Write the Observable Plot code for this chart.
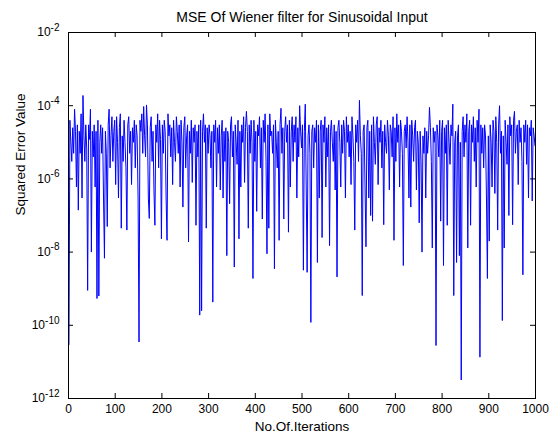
<!DOCTYPE html>
<html>
<head>
<meta charset="utf-8">
<script src="https://cdn.jsdelivr.net/npm/d3@7"></script>
<script src="https://cdn.jsdelivr.net/npm/@observablehq/plot@0.6"></script>
<style>
  html, body { margin: 0; padding: 0; background: #fff; }
  #chart svg { display: block; }
</style>
</head>
<body>
<div id="chart"></div>
<script>
// ---- Data ----
const titleText = "MSE Of Wiener filter for Sinusoidal Input";
const xLabelText = "No.Of.Iterations";
const yLabelText = "Squared Error Value";

const xTicks = [0, 100, 200, 300, 400, 500, 600, 700, 800, 900, 1000];
const yTicks = [1e-12, 1e-10, 1e-8, 1e-6, 1e-4, 1e-2];
const yTickBase = "10";
const yTickExponents = ["-12", "-10", "-8", "-6", "-4", "-2"];

// iteration sampling: every 2nd iteration starting at 1
const iterStart = 1;
const iterStep = 2;

// squared error values, one per sampled iteration (10 per row)
const mse = [
  3e-11, 4e-5, 1e-5, 3e-6, 2.5e-5, 5e-6, 8e-5, 2e-5, 6e-7, 3e-5,
  1.4e-7, 2e-5, 5e-6, 6e-5, 3e-7, 1.9e-4, 1.5e-5, 3e-6, 3e-5, 7e-6,
  9e-10, 3e-5, 1.2e-5, 8e-5, 1e-8, 2e-5, 4e-6, 3e-5, 6e-7, 2e-5,
  5.4e-10, 4e-5, 6.3e-10, 1e-5, 3e-5, 5e-6, 2.5e-5, 3e-7, 6.8e-9, 2e-5,
  5e-6, 5e-8, 3e-5, 8e-5, 2e-6, 1.5e-5, 5e-5, 3e-6, 2e-5, 4e-5,
  7e-7, 5e-5, 1e-5, 3e-7, 2.5e-5, 6e-5, 4.5e-8, 1.5e-5, 3e-6, 4e-5,
  1e-5, 2e-6, 4e-8, 3e-5, 5e-5, 5e-6, 2e-5, 7e-7, 2.5e-5, 1e-5,
  4e-5, 2e-6, 3e-5, 1.5e-5, 3e-7, 3.5e-11, 4e-5, 2e-5, 6e-5, 5e-6,
  9.5e-5, 1.5e-5, 4e-6, 1.05e-4, 3e-5, 3e-7, 8.3e-8, 2.5e-5, 5e-5, 3e-6,
  2e-5, 5e-7, 5.4e-8, 3e-5, 1e-5, 6e-5, 2e-6, 4e-5, 1.2e-5, 2.3e-8,
  3e-5, 5e-6, 4e-5, 2e-5, 3e-7, 2.1e-8, 6e-5, 1.5e-5, 3e-5, 4e-6,
  2.5e-5, 7e-7, 4e-5, 1e-5, 3e-6, 5e-5, 2e-5, 5e-6, 3e-5, 6e-7,
  4e-5, 1e-5, 1.7e-7, 2.5e-5, 5e-5, 2e-6, 1.5e-5, 3e-5, 1.9e-8, 2e-5,
  5e-6, 4e-5, 8e-7, 2.5e-5, 1e-5, 3e-5, 5.4e-8, 2e-5, 4e-6, 3e-5,
  1.9e-10, 4e-5, 2.5e-10, 2e-5, 6e-5, 1e-5, 3e-5, 4.5e-8, 2.5e-5, 5e-6,
  3e-5, 1.5e-5, 2e-6, 2e-5, 4.3e-10, 3e-5, 1e-5, 4e-5, 6e-7, 2.5e-5,
  5e-6, 3e-5, 5e-7, 1.5e-5, 4e-5, 3e-7, 2e-5, 3e-6, 2.5e-5, 8e-9,
  2e-5, 1e-5, 2.1e-7, 3e-5, 5e-5, 4e-6, 2e-5, 3.9e-9, 3e-5, 1e-5,
  2.5e-6, 4e-5, 2.3e-8, 2e-5, 6e-7, 3e-5, 1e-5, 5e-5, 8e-7, 2.5e-5,
  7e-5, 2e-5, 4.5e-8, 3e-5, 5e-6, 4e-5, 1e-5, 1.9e-9, 4e-5, 3e-6,
  2e-5, 1.3e-7, 3e-5, 1.5e-5, 5e-5, 2e-6, 2.5e-5, 8e-8, 4e-5, 1e-5,
  6e-5, 3e-6, 9e-9, 3e-5, 4.5e-8, 6e-5, 1.5e-5, 2e-5, 5e-6, 3e-5,
  3.5e-9, 4e-5, 1e-5, 2e-6, 2e-5, 2.1e-8, 3e-5, 8.5e-5, 5e-6, 2.5e-5,
  8e-8, 2e-5, 5e-5, 1e-5, 3e-5, 3.5e-8, 4e-5, 6e-7, 2e-5, 5e-5,
  3e-6, 3e-5, 1e-5, 5e-5, 3e-7, 2.5e-5, 4e-6, 1e-4, 2e-5, 7e-6,
  3e-5, 3.2e-9, 2e-5, 1.1e-4, 6e-7, 2.8e-9, 1.5e-5, 3e-5, 5e-6, 1.2e-10,
  2e-5, 3e-5, 2e-6, 2.5e-5, 1e-5, 4e-5, 5.2e-9, 3e-5, 3e-7, 2e-5,
  4e-5, 2.5e-8, 3e-5, 1e-5, 5e-5, 6e-7, 2.5e-5, 4e-6, 3e-5, 1.5e-8,
  2e-5, 4e-5, 1e-5, 3e-6, 3e-5, 5e-7, 2e-5, 2.1e-9, 2.5e-5, 4e-5,
  1e-5, 6e-7, 3e-5, 5e-6, 4e-5, 2e-5, 3e-7, 5e-5, 1e-5, 3e-5,
  4e-6, 2e-5, 7e-7, 5e-5, 1.5e-5, 3e-6, 4e-8, 3e-5, 1e-5, 4e-5,
  3e-6, 1.4e-4, 1.5e-5, 5e-6, 6.5e-10, 2e-5, 3e-5, 6e-7, 1.4e-8, 2.5e-5,
  4e-5, 3e-7, 2e-5, 1e-7, 3e-5, 7e-8, 5e-5, 1e-5, 2.5e-6, 3e-5,
  5e-5, 7e-7, 2.5e-5, 1e-5, 4e-5, 2e-6, 2e-5, 5.6e-8, 3e-5, 1e-5,
  5e-6, 4e-5, 1.5e-5, 5e-7, 3e-5, 2e-5, 4e-6, 5e-5, 2.1e-8, 2.5e-5,
  3e-6, 6e-5, 1e-5, 3e-5, 6e-7, 4e-5, 2e-5, 5e-6, 4.3e-9, 2e-5,
  3e-5, 7e-6, 5e-5, 1e-5, 3e-7, 3e-5, 1.7e-7, 4e-5, 1.5e-5, 3e-6,
  2.5e-5, 4e-5, 5e-7, 2e-5, 1e-5, 6.3e-8, 2e-5, 3e-6, 1e-8, 1.5e-5,
  5e-6, 2.5e-5, 3e-7, 2e-5, 5e-6, 1.5e-5, 9e-5, 2.5e-5, 3e-6, 1.3e-8,
  2.5e-5, 1e-5, 2e-5, 2.8e-11, 3e-5, 1.5e-5, 4e-6, 4e-5, 7e-8, 2e-5,
  4e-5, 4.3e-9, 2.5e-5, 5e-6, 3e-5, 5.4e-8, 4e-5, 1e-5, 2.5e-6, 3e-5,
  1.5e-5, 1.1e-4, 6.5e-10, 1e-5, 2e-5, 5.2e-9, 1.5e-5, 3e-5, 8e-9, 1e-5,
  3.2e-12, 2e-5, 5e-5, 4e-6, 3e-5, 1e-5, 6e-5, 1.3e-8, 2e-5, 4e-5,
  5.4e-8, 3e-5, 1e-5, 5e-5, 3e-6, 2.5e-5, 6e-7, 4e-5, 1e-5, 8e-5,
  1.35e-11, 3e-5, 5e-6, 2.5e-5, 2e-6, 3e-5, 1.5e-5, 3e-7, 1.9e-9, 1.5e-5,
  2e-8, 3e-5, 1e-5, 6e-7, 4e-5, 2e-5, 4e-7, 5e-5, 1e-5, 4e-8,
  3e-5, 1e-4, 5e-6, 2e-5, 1.35e-10, 1.5e-5, 1.3e-8, 4e-5, 1e-5, 2.5e-6,
  3e-5, 1e-7, 5e-5, 1.5e-5, 3e-5, 5.6e-8, 4e-5, 7e-5, 5e-6, 2e-5,
  3e-5, 7e-7, 4e-5, 1e-5, 2.5e-5, 3e-6, 2.4e-9, 3e-5, 1e-5, 4e-5,
  2.5e-6, 3e-5, 3e-7, 2.5e-5, 1.5e-5, 4e-5, 2.5e-7, 2.5e-5, 1.5e-5, 8e-6
];

const table = mse.map((v, k) => ({iteration: iterStart + k * iterStep, mse: v}));

const font = "'Liberation Sans', Arial, Helvetica, sans-serif";
const tickLen = 5;
const frameW = 556 - 68 - 21;
const frameH = 440 - 32 - 42;

const chart = Plot.plot({
  width: 556,
  height: 440,
  marginLeft: 68,
  marginRight: 21,
  marginTop: 32,
  marginBottom: 42,
  style: {fontFamily: font, fontSize: "12px", background: "#fff", color: "#000", overflow: "visible"},
  x: {domain: [0, 1000], label: null},
  y: {type: "log", domain: [1e-12, 1e-2], label: null},
  marks: [
    Plot.lineY(table, {x: "iteration", y: "mse", stroke: "#0000ff", strokeWidth: 1}),
    Plot.frame({stroke: "#000", strokeWidth: 1}),
    // inward ticks on all four sides
    Plot.tickX(xTicks, {x: d => d, insetTop: frameH - tickLen, stroke: "#000"}),
    Plot.tickX(xTicks, {x: d => d, insetBottom: frameH - tickLen, stroke: "#000"}),
    Plot.tickY(yTicks, {y: d => d, insetRight: frameW - tickLen, stroke: "#000"}),
    Plot.tickY(yTicks, {y: d => d, insetLeft: frameW - tickLen, stroke: "#000"}),
    // tick labels
    Plot.axisX(xTicks, {anchor: "bottom", tickSize: 0, tickPadding: 6, tickFormat: d => String(d), fill: "#000", fontSize: 12, label: null}),
    Plot.axisY(yTicks, {anchor: "left", tickSize: 0, tickPadding: 9, tickFormat: () => yTickBase, fill: "#000", fontSize: 12, label: null}),
    // title and axis labels
    Plot.text([titleText], {text: d => d, frameAnchor: "top", dy: -20, fontSize: 14, fill: "#000"}),
    Plot.text([xLabelText], {text: d => d, frameAnchor: "bottom", dy: 32, fontSize: 13.5, fill: "#000"}),
    Plot.text([yLabelText], {text: d => d, frameAnchor: "left", dx: -48, rotate: -90, fontSize: 13.5, fill: "#000"})
  ]
});

// superscript exponents on the log-axis tick labels
d3.select(chart).selectAll('g[aria-label="y-axis tick label"] text').each(function(d, i) {
  d3.select(this).append("tspan")
    .attr("dy", "-0.55em")
    .attr("font-size", "10px")
    .text(yTickExponents[i]);
});

document.getElementById("chart").appendChild(chart);
</script>
</body>
</html>
